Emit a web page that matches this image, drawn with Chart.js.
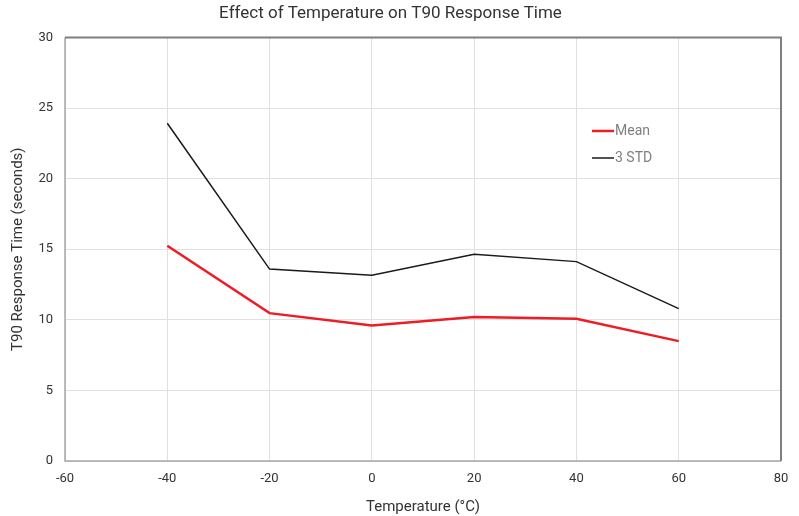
<!DOCTYPE html>
<html>
<head>
<meta charset="utf-8">
<script src="https://cdn.jsdelivr.net/npm/chart.js@4"></script>
<style>
  html, body { margin: 0; padding: 0; background: #fff; }
  #wrap { width: 799px; height: 516px; }
</style>
</head>
<body>
<div id="wrap"><canvas id="tempChart"></canvas></div>
<script>
// Temperature (°C) and T90 response time (s)
const temps = [-40, -20, 0, 20, 40, 60];
const meanTimes = [15.25, 10.47, 9.59, 10.19, 10.08, 8.49];
const std3Times = [23.92, 13.59, 13.16, 14.65, 14.12, 10.79];

const FONT = 'Roboto, "Open Sans", sans-serif';

// border around the plot area + legend drawn inside it
const plotFrame = {
    id: 'plotFrame',
    afterDatasetsDraw(chart) {
        const { ctx, chartArea: a } = chart;
        ctx.save();
        ctx.strokeStyle = '#a6a6a6';
        ctx.lineWidth = 1.5;
        ctx.beginPath();
        ctx.moveTo(a.left, a.top);
        ctx.lineTo(a.left, a.bottom);
        ctx.lineTo(a.right, a.bottom);
        ctx.stroke();
        ctx.strokeStyle = '#7f7f7f';
        ctx.lineWidth = 2;
        ctx.beginPath();
        ctx.moveTo(a.left, a.top);
        ctx.lineTo(a.right, a.top);
        ctx.lineTo(a.right, a.bottom);
        ctx.stroke();

        // legend
        ctx.font = '14px ' + FONT;
        ctx.textBaseline = 'middle';
        chart.data.datasets.forEach((ds, i) => {
            const y = 131 + i * 27;
            ctx.strokeStyle = ds.borderColor;
            ctx.lineWidth = ds.borderWidth;
            ctx.beginPath();
            ctx.moveTo(592, y);
            ctx.lineTo(614, y);
            ctx.stroke();
            ctx.fillStyle = '#7f7f7f';
            ctx.fillText(ds.label, 615, y);
        });
        ctx.restore();
    }
};

new Chart(document.getElementById('tempChart'), {
    type: 'line',
    data: {
        datasets: [
            { label: 'Mean', data: temps.map((t, i) => ({ x: t, y: meanTimes[i] })), borderColor: '#ee1c25', borderWidth: 2.5, pointRadius: 0, tension: 0 },
            { label: '3 STD', data: temps.map((t, i) => ({ x: t, y: std3Times[i] })), borderColor: '#1a1a1a', borderWidth: 1.5, pointRadius: 0, tension: 0 }
        ]
    },
    options: {
        responsive: true,
        maintainAspectRatio: false,
        animation: false,
        layout: { padding: { left: 0, right: 18, top: 0, bottom: 0 } },
        plugins: {
            legend: { display: false },
            tooltip: { enabled: false },
            title: {
                display: true,
                text: 'Effect of Temperature on T90 Response Time',
                color: '#333',
                font: { family: FONT, size: 17, weight: 'normal' },
                padding: { top: 4, bottom: 13 }
            }
        },
        scales: {
            x: {
                type: 'linear',
                min: -60, max: 80,
                ticks: { stepSize: 20, color: '#333', font: { family: FONT, size: 13 }, padding: 10 },
                grid: { color: '#e0e0e0', drawTicks: false },
                border: { display: false },
                title: { display: true, text: 'Temperature (\u00b0C)', color: '#333', font: { family: FONT, size: 15 }, padding: { top: 0, bottom: 0 } },
                afterFit(s) { s.height = 55; }
            },
            y: {
                min: 0, max: 30,
                ticks: { stepSize: 5, color: '#333', font: { family: FONT, size: 13 }, padding: 12 },
                grid: { color: '#e0e0e0', drawTicks: false },
                border: { display: false },
                title: { display: true, text: 'T90 Response Time (seconds)', color: '#333', font: { family: FONT, size: 15 }, padding: { top: 9, bottom: 0 } },
                afterFit(s) { s.width = 65; }
            }
        }
    },
    plugins: [plotFrame]
});
</script>
</body>
</html>
